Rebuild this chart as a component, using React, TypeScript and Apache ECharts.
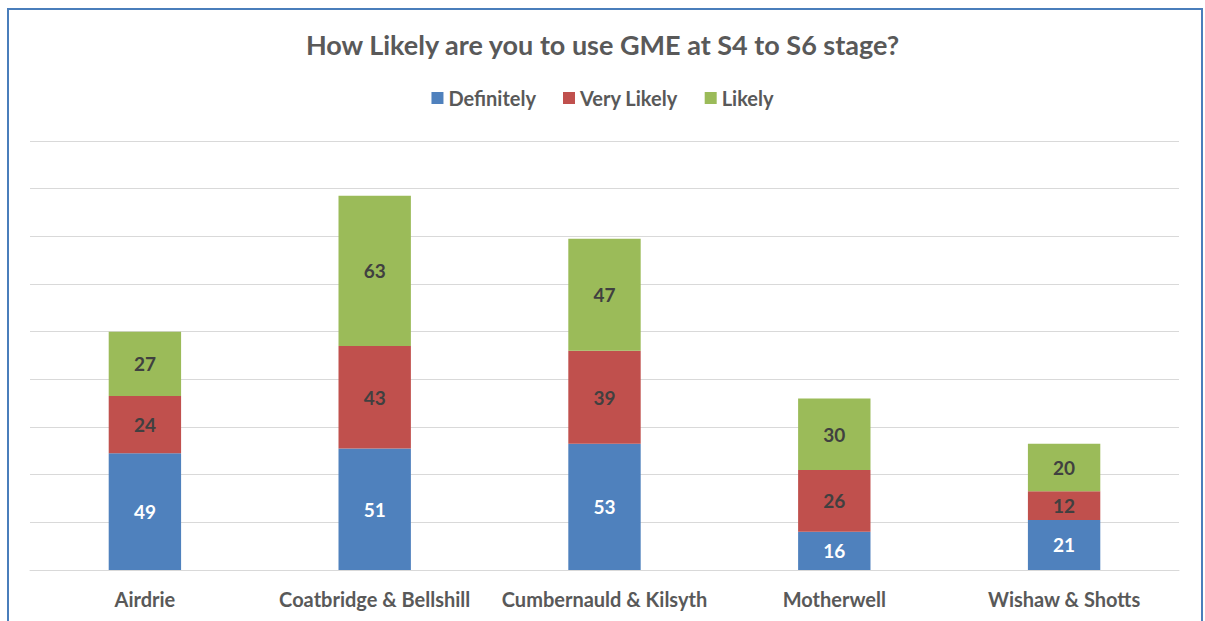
import React, { useEffect, useRef } from "react";
import * as echarts from "echarts";

const categories = ["Airdrie", "Coatbridge & Bellshill", "Cumbernauld & Kilsyth", "Motherwell", "Wishaw & Shotts"];
const definitely = [49, 51, 53, 16, 21];
const veryLikely = [24, 43, 39, 26, 12];
const likely = [27, 63, 47, 30, 20];

const FONT = "Lato, 'Open Sans', sans-serif";

export default function App() {
  const ref = useRef<HTMLDivElement>(null);
  useEffect(() => {
    if (!ref.current) return;
    const chart = echarts.init(ref.current, undefined, { renderer: "svg" });
    const labelDark = { show: true, position: "inside", fontFamily: FONT, fontWeight: "bold", fontSize: 19, color: "#404040" };
    chart.setOption({
      animation: false,
      backgroundColor: "#ffffff",
      title: {
        text: "How Likely are you to use GME at S4 to S6 stage?",
        left: "center",
        top: 26,
        textStyle: { fontFamily: FONT, fontWeight: "bold", fontSize: 27, color: "#595959" },
      },
      legend: {
        top: 83,
        left: "center",
        itemWidth: 12,
        itemHeight: 12,
        itemGap: 27,
        icon: "rect",
        textStyle: { fontFamily: FONT, fontWeight: "bold", fontSize: 20, color: "#595959" },
        data: ["Definitely", "Very Likely", "Likely"],
      },
      graphic: [
        {
          type: "rect",
          shape: { x: 8, y: 9, width: 1194, height: 640 },
          style: { fill: "none", stroke: "#4a7ebb", lineWidth: 2 },
          silent: true,
        },
      ],
      grid: { left: 30, right: 26, top: 141, height: 429 },
      xAxis: {
        type: "category",
        data: categories,
        axisLine: { lineStyle: { color: "#d9d9d9" } },
        axisTick: { show: false },
        axisLabel: { interval: 0, hideOverlap: false, fontFamily: FONT, fontWeight: "bold", fontSize: 20, color: "#595959", margin: 19 },
      },
      yAxis: {
        type: "value",
        min: 0,
        max: 180,
        interval: 20,
        axisLabel: { show: false },
        axisLine: { show: false },
        axisTick: { show: false },
        splitLine: { lineStyle: { color: "#d9d9d9" } },
      },
      series: [
        {
          name: "Definitely",
          type: "bar",
          stack: "total",
          barWidth: "31.5%",
          data: definitely,
          itemStyle: { color: "#4f81bd" },
          label: { ...labelDark, color: "#ffffff" },
        },
        {
          name: "Very Likely",
          type: "bar",
          stack: "total",
          data: veryLikely,
          itemStyle: { color: "#c0504d" },
          label: labelDark,
        },
        {
          name: "Likely",
          type: "bar",
          stack: "total",
          data: likely,
          itemStyle: { color: "#9bbb59" },
          label: labelDark,
        },
      ],
    });
    return () => chart.dispose();
  }, []);
  return <div ref={ref} style={{ position: "fixed", left: 0, top: 0, width: 1205, height: 621 }} />;
}
